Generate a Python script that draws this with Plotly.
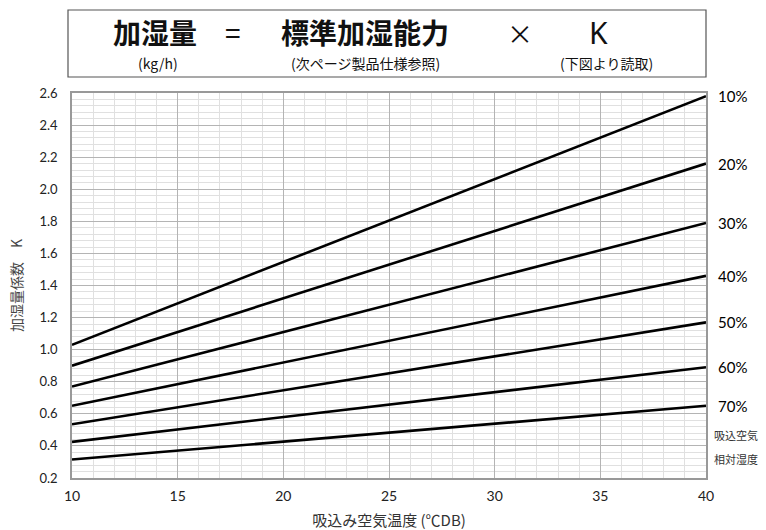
import plotly.graph_objects as go

# ---- data ----
temps = [10, 40]
rh_labels = ["10%", "20%", "30%", "40%", "50%", "60%", "70%"]
k_values = [
    [1.03, 2.58],
    [0.90, 2.16],
    [0.77, 1.79],
    [0.65, 1.46],
    [0.535, 1.17],
    [0.425, 0.89],
    [0.315, 0.65],
]
x_ticks = [10, 15, 20, 25, 30, 35, 40]
y_ticks = [0.2, 0.4, 0.6, 0.8, 1.0, 1.2, 1.4, 1.6, 1.8, 2.0, 2.2, 2.4, 2.6]

W, H = 766, 530
ML, MR, MT, MB = 72, 60, 93, 52
PW, PH = W - ML - MR, H - MT - MB

def px(x):
    return (x - ML) / PW

def py(y):
    return (H - MB - y) / PH

JP = "Noto Sans CJK JP"
NUM = "Lato"

fig = go.Figure()
for lab, vals in zip(rh_labels, k_values):
    fig.add_trace(go.Scatter(x=temps, y=vals, mode="lines",
                             line=dict(color="black", width=2.6),
                             name=lab, showlegend=False, hoverinfo="skip"))
    fig.add_annotation(x=1.0, xref="paper", y=vals[-1], yref="y",
                       text=lab, showarrow=False, xanchor="left", xshift=10,
                       font=dict(family=NUM, size=15, color="black"))

fig.update_xaxes(range=[10, 40], tickvals=x_ticks, ticktext=[str(v) for v in x_ticks],
                 showgrid=True, gridcolor="#b4b4b4", gridwidth=1.2,
                 minor=dict(dtick=1, tick0=10, showgrid=True, gridcolor="#e0e0e0", gridwidth=1.2),
                 showline=True, linecolor="#999999", linewidth=1.5, mirror=True,
                 ticks="", zeroline=False, automargin=False, ticklabelstandoff=4,
                 tickfont=dict(family=NUM, size=14, color="#222222"),
                 title=dict(text="吸込み空気温度 (℃DB)", font=dict(family=JP, size=15, color="#333333"),
                            standoff=16))
fig.update_yaxes(range=[0.2, 2.6], tickvals=y_ticks, ticktext=[f"{v:.1f}" for v in y_ticks],
                 showgrid=True, gridcolor="#b4b4b4", gridwidth=1.2,
                 minor=dict(dtick=0.04, tick0=0.2, showgrid=True, gridcolor="#e0e0e0", gridwidth=1.2),
                 showline=True, linecolor="#999999", linewidth=1.5, mirror=True,
                 ticks="", zeroline=False, automargin=False, ticklabelstandoff=10,
                 tickfont=dict(family=NUM, size=13, color="#222222"),
                 title=dict(text="加湿量係数　K", font=dict(family=JP, size=14, color="#444444"),
                            standoff=14))

# formula box
fig.add_shape(type="rect", xref="paper", yref="paper",
              x0=px(68), x1=px(706), y0=py(77), y1=py(10),
              line=dict(color="#555555", width=1.2), fillcolor="white")

def ann(text, x, y, size, bold=False, family=JP):
    t = f"<b>{text}</b>" if bold else text
    fig.add_annotation(x=px(x), y=py(y), xref="paper", yref="paper", text=t,
                       showarrow=False, xanchor="center", yanchor="middle",
                       font=dict(family=family, size=size, color="#111111"))

ann("加湿量", 155, 32, 28, bold=True)
ann("(kg/h)", 158, 63, 14)
ann("=", 233, 32, 28)
ann("標準加湿能力", 365, 32, 28, bold=True)
ann("(次ページ製品仕様参照)", 365, 63, 14)
ann("×", 520, 33, 26)
ann("K", 598, 32, 30, family="Noto Sans")
ann("(下図より読取)", 606, 63, 14)

fig.add_annotation(x=1.0, xref="paper", y=py(445), yref="paper", text="吸込空気",
                   showarrow=False, xanchor="left", xshift=6,
                   font=dict(family=JP, size=11, color="#333333"))
fig.add_annotation(x=1.0, xref="paper", y=py(469), yref="paper", text="相対湿度",
                   showarrow=False, xanchor="left", xshift=6,
                   font=dict(family=JP, size=11, color="#333333"))

fig.update_layout(width=W, height=H, margin=dict(l=ML, r=MR, t=MT, b=MB),
                  paper_bgcolor="white", plot_bgcolor="white")
fig.write_html("out.html", config={"displayModeBar": False},
               post_script="document.body.style.margin='0';document.body.style.overflow='hidden';")
